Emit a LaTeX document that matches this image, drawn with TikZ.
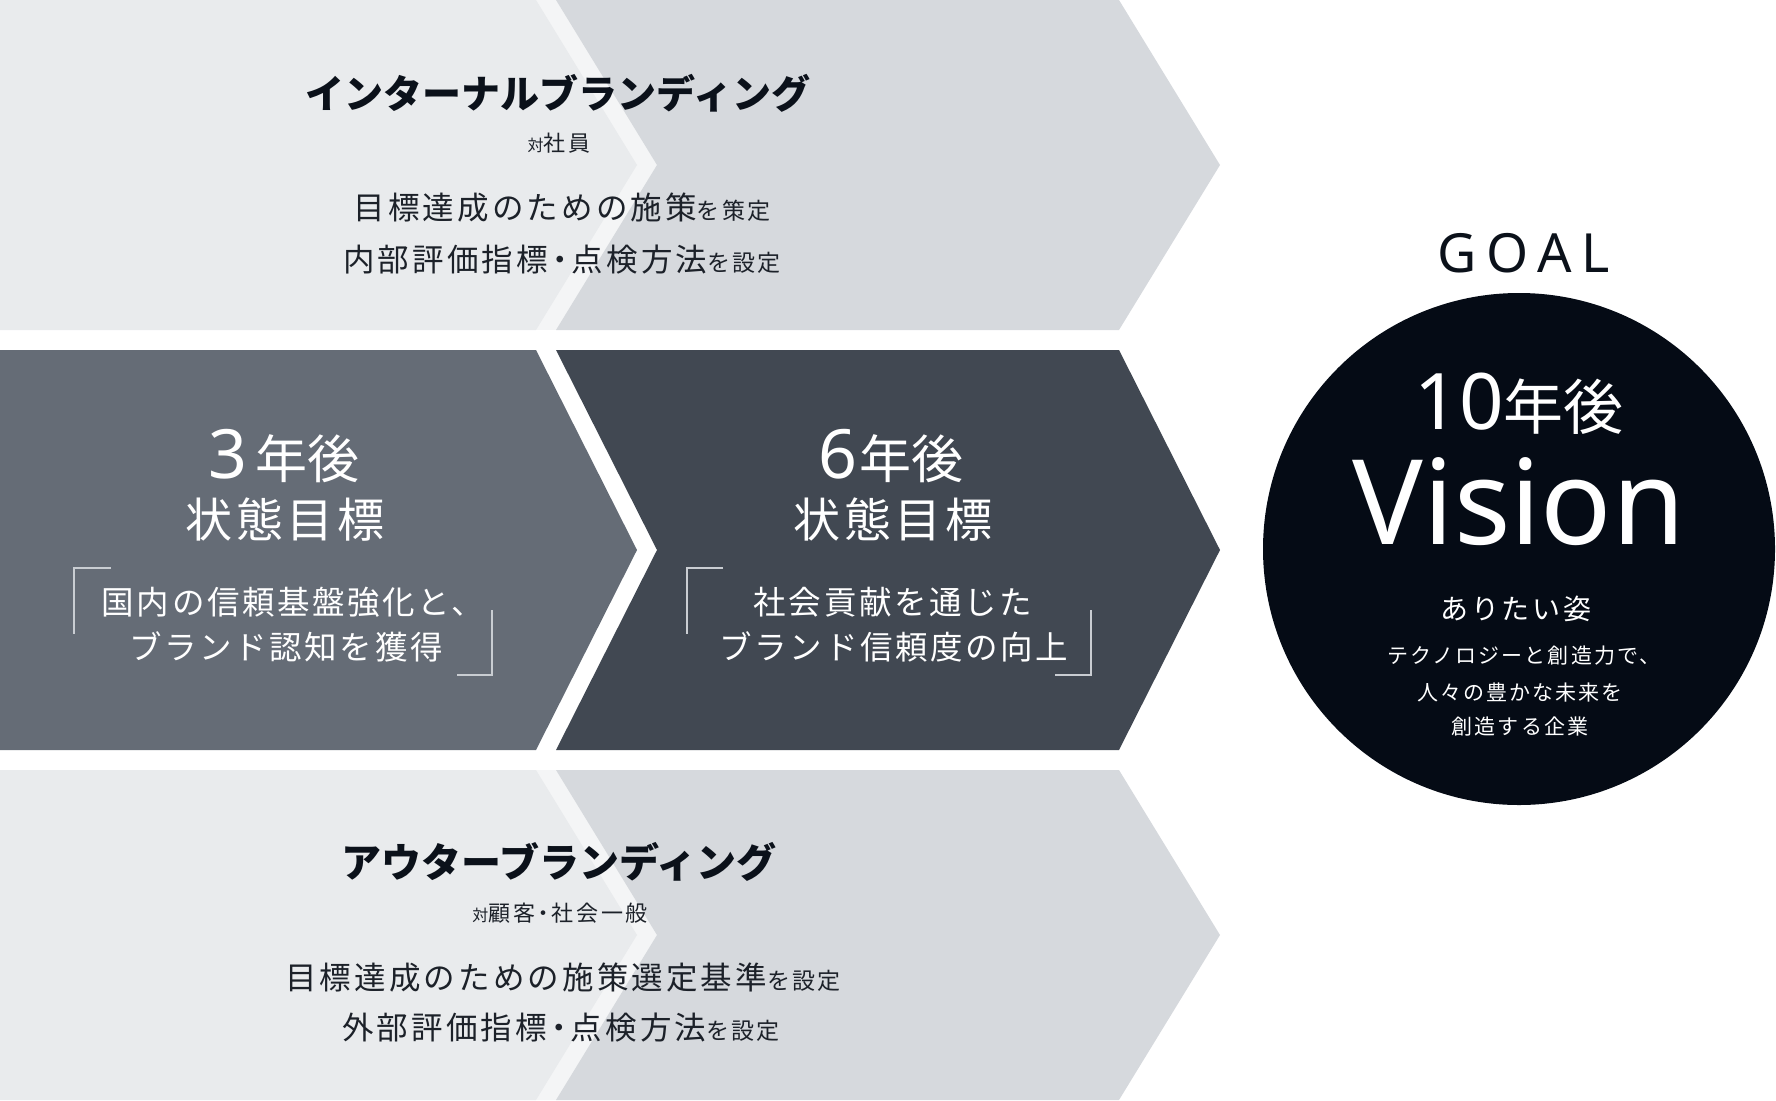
\documentclass[tikz,border=0pt]{standalone}
\usepackage{fontspec}
\setmainfont{Noto Sans CJK JP}
\newfontfamily\jp{Noto Sans CJK JP}
\newfontfamily\jpsp[LetterSpace=10]{Noto Sans CJK JP}
\newfontfamily\jpmid[LetterSpace=8]{Noto Sans CJK JP}
\newfontfamily\jpwide[LetterSpace=12]{Noto Sans CJK JP}
\newfontfamily\lat{Noto Sans}
\newfontfamily\latsp[LetterSpace=18]{Noto Sans}
\newcommand\ndot{\kern-0.12em・\kern-0.12em}
\definecolor{lightA}{HTML}{E9EBED}
\definecolor{lightS}{HTML}{F4F5F6}
\definecolor{lightB}{HTML}{D6D9DD}
\definecolor{midA}{HTML}{656C76}
\definecolor{midB}{HTML}{414852}
\definecolor{goalc}{HTML}{050B15}
\definecolor{inkc}{HTML}{0B111A}
\definecolor{bodyc}{HTML}{1C2129}
\definecolor{brk}{HTML}{C9CDD2}
\begin{document}
\begin{tikzpicture}[x=1pt,y=-1pt,
  txt/.style={inner sep=0pt, anchor=base},
  brline/.style={draw=brk, line width=1.5pt}]
\useasboundingbox (0,0) rectangle (1776,1100);
% ---- top band ----
\fill[lightS] (0,0) rectangle (700,330);
\fill[lightA] (0,0) -- (536,0) -- (637,165) -- (536,330) -- (0,330) -- cycle;
\fill[lightB] (556,0) -- (1119,0) -- (1220,165) -- (1119,330) -- (556,330) -- (657,165) -- cycle;
% ---- middle band ----
\fill[midA] (0,350) -- (536,350) -- (637,550) -- (536,750) -- (0,750) -- cycle;
\fill[midB] (556,350) -- (1119,350) -- (1220,550) -- (1119,750) -- (556,750) -- (657,550) -- cycle;
% ---- bottom band ----
\fill[lightS] (0,770) rectangle (700,1100);
\fill[lightA] (0,770) -- (536,770) -- (637,935) -- (536,1100) -- (0,1100) -- cycle;
\fill[lightB] (556,770) -- (1119,770) -- (1220,935) -- (1119,1100) -- (556,1100) -- (657,935) -- cycle;
% ---- goal circle ----
\fill[goalc] (1519,549) circle (256pt);

% ---- top texts ----
\node[txt, text=inkc] (h1) at (558,108) {\fontsize{39}{44}\jp\bfseries インターナルブランディング};
\node[txt, text=bodyc] (s1) at (559,151) {\fontsize{16}{20}\jp 対\fontsize{22}{25}\jpwide 社員};
\node[txt, text=bodyc] (t1a) at (562,219) {\fontsize{31.5}{36}\jpsp 目標達成のための施策\fontsize{23}{26}\selectfont を策定};
\node[txt, text=bodyc] (t1b) at (562,271) {\fontsize{31.5}{36}\jpsp 内部評価指標\ndot 点検方法\fontsize{23}{26}\selectfont を設定};

% ---- bottom texts ----
\node[txt, text=inkc] (h2) at (559,877) {\fontsize{40}{44}\jp\bfseries アウターブランディング};
\node[txt, text=bodyc] (s2) at (560,921) {\fontsize{16}{20}\jp 対\fontsize{22}{25}\jpwide 顧客\ndot 社会一般};
\node[txt, text=bodyc] (t2a) at (563,989) {\fontsize{31.5}{36}\jpsp 目標達成のための施策選定基準\fontsize{23}{26}\selectfont を設定};
\node[txt, text=bodyc] (t2b) at (561,1039) {\fontsize{31.5}{36}\jpsp 外部評価指標\ndot 点検方法\fontsize{23}{26}\selectfont を設定};

% ---- middle left ----
\node[txt, text=white] (y3) at (284,478) {\fontsize{68}{70}\lat 3\hspace{8pt}\fontsize{52}{56}\jp 年後};
\node[txt, text=white] (g3) at (285,537) {\fontsize{47}{50}\jpmid 状態目標};
\node[txt, text=white] (d3a) at (293,614) {\fontsize{32.5}{36}\jpmid 国内の信頼基盤強化と、};
\node[txt, text=white] (d3b) at (286,659) {\fontsize{32.5}{36}\jpmid ブランド認知を獲得};
\draw[brline] (111,568) -- (74,568) -- (74,634);
\draw[brline] (457,675) -- (492,675) -- (492,610);

% ---- middle right ----
\node[txt, text=white] (y6) at (891,478) {\fontsize{68}{70}\lat 6\hspace{3pt}\fontsize{52}{56}\jp 年後};
\node[txt, text=white] (g6) at (893,537) {\fontsize{47}{50}\jpmid 状態目標};
\node[txt, text=white] (d6a) at (893,614) {\fontsize{32.5}{36}\jpmid 社会貢献を通じた};
\node[txt, text=white] (d6b) at (894,659) {\fontsize{32.5}{36}\jpmid ブランド信頼度の向上};
\draw[brline] (723,568) -- (687,568) -- (687,634);
\draw[brline] (1055,675) -- (1091,675) -- (1091,610);

% ---- goal ----
\node[txt, text=inkc] (goal) at (1524,272) {\fontsize{54}{58}\latsp GOAL};
\node[txt, text=white] (y10) at (1519,429) {\fontsize{78}{80}\lat 10\fontsize{60}{64}\jp 年後};
\node[txt, text=white] (vis) at (1519,544) {\fontsize{118}{120}\lat Vision};
\node[txt, text=white] (v1) at (1516,619) {\fontsize{28}{32}\jpsp ありたい姿};
\node[txt, text=white] (v2) at (1524,663) {\fontsize{21}{25}\jpsp テクノロジーと創造力で、};
\node[txt, text=white] (v3) at (1520,700) {\fontsize{21}{25}\jpsp 人々の豊かな未来を};
\node[txt, text=white] (v4) at (1520,734) {\fontsize{21}{25}\jpsp 創造する企業};
\end{tikzpicture}
\end{document}
